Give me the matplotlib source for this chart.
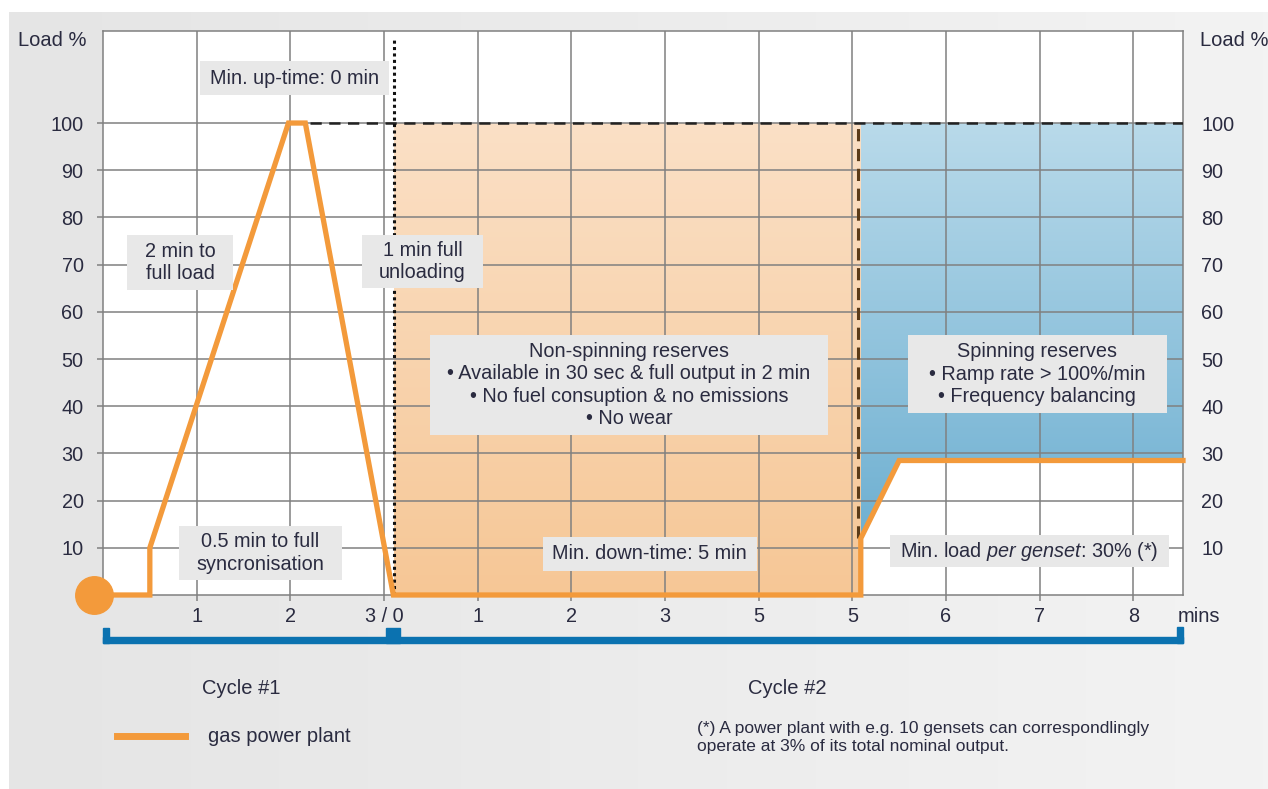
import matplotlib
matplotlib.use("Agg")
import matplotlib.pyplot as plt
import numpy as np
from matplotlib.colors import LinearSegmentedColormap
from matplotlib.patches import Rectangle, Polygon
from matplotlib.lines import Line2D
import matplotlib.transforms as mtransforms

plt.rcParams['font.family'] = ['Liberation Sans', 'DejaVu Sans']
plt.rcParams['mathtext.fontset'] = 'custom'
plt.rcParams['mathtext.rm'] = 'Liberation Sans'
plt.rcParams['mathtext.it'] = 'Liberation Sans:italic'

# data (minutes on a continuous axis: cycle 2 starts at 3)
load_x = [0, 0.5, 0.5, 1.98, 2.16, 3.1, 8.09, 8.09, 8.5, 11.53]
load_y = [0, 0, 10, 100, 100, 0, 0, 12, 28.5, 28.5]
xtick_pos = [1, 2, 3, 4, 5, 6, 7, 8, 9, 10, 11]
xtick_labels = ['1', '2', '3 / 0', '1', '2', '3', '5', '5', '6', '7', '8']
ytick_vals = [10, 20, 30, 40, 50, 60, 70, 80, 90, 100]
non_spin = [3.11, 8.09]       # x range of non-spinning reserve
spin_start = 8.09
full_load = 100
x_end = 11.53
cycle_bounds = [0, 3.1, x_end]

TXT = '#2a2b40'
GRID = '#808080'
ORANGE = '#f39a3b'
BLUE = '#0b72b0'
BOXC = '#e8e8e8'
FS = 14.3

W, H = 1268, 789
fig = plt.figure(figsize=(W / 100, H / 100), dpi=100, facecolor='white')

# gray page background with gentle horizontal gradient
bg = fig.add_axes([9 / W, 0, 1 - 9 / W, 1 - 12 / H], zorder=-10)
bg_cmap = LinearSegmentedColormap.from_list('bg', ['#e5e5e5', '#ececec', '#f3f3f3'])
bg.imshow(np.linspace(0, 1, 256)[None, :], cmap=bg_cmap, aspect='auto', extent=[0, 1, 0, 1])
bg.axis('off')

ax = fig.add_axes([103 / W, 1 - 595 / H, (1183 - 103) / W, (595 - 31) / H])
ax.set_facecolor('white')

# gradient fills
peach = LinearSegmentedColormap.from_list('peach', ['#f6c796', '#fbe0c6'])
ax.imshow(np.linspace(0, 1, 256)[:, None], cmap=peach, aspect='auto', origin='lower',
          extent=[non_spin[0], non_spin[1], 0, full_load], zorder=0.2)
blue_cm = LinearSegmentedColormap.from_list('bl', ['#64aace', '#b9daea'])
im = ax.imshow(np.linspace(0, 1, 256)[:, None], cmap=blue_cm, aspect='auto', origin='lower',
               extent=[spin_start, x_end, 0, full_load], zorder=0.2)
spin_x = [x for x in load_x if x >= spin_start]
spin_y = [y for x, y in zip(load_x, load_y) if x >= spin_start]
poly_pts = [(spin_start, full_load), (x_end, full_load)] + list(zip(spin_x[::-1], spin_y[::-1]))
clip = Polygon(poly_pts, closed=True, transform=ax.transData, facecolor='none', edgecolor='none')
ax.add_patch(clip)
im.set_clip_path(clip)

ax.set_xlim(0, x_end)
ax.set_ylim(0, 119.5)

ax.set_axisbelow(True)
ax.set_xticks(xtick_pos)
ax.set_xticklabels(xtick_labels)
ax.set_yticks(ytick_vals)
ax.grid(True, color=GRID, linewidth=1.1)
for s in ax.spines.values():
    s.set_color(GRID)
    s.set_linewidth(1.1)
ax.tick_params(axis='both', length=4, width=1.1, color=GRID, labelcolor=TXT, labelsize=FS)
ax.tick_params(axis='y', pad=10)
ax.tick_params(axis='x', pad=5)

ax2 = ax.twinx()
ax2.set_ylim(ax.get_ylim())
ax2.set_yticks(ytick_vals)
ax2.tick_params(axis='y', length=0, pad=13, labelcolor=TXT, labelsize=FS)
for s in ax2.spines.values():
    s.set_visible(False)

# reference lines
ax.plot([2.21, x_end], [full_load, full_load], color='#222222', lw=1.8, dashes=(4.5, 3), zorder=3)
ax.plot([non_spin[0], non_spin[0]], [0, 117.6], color='#111111', lw=2.2, ls=(0, (1, 1.1)), zorder=3)
ax.plot([spin_start - 0.03, spin_start - 0.03], [12, full_load], color='#5b3b18', lw=2.2,
        dashes=(4, 2.5), zorder=3)

# load curve
ax.plot(load_x, load_y, color=ORANGE, lw=3.8, solid_joinstyle='miter', zorder=4, clip_on=False)
ax.plot([-0.096], [0], 'o', color=ORANGE, ms=27, zorder=5, clip_on=False)

# notes: centre x, centre y, box width (min), box height (%), text
notes = [
    (2.043, 109.5, 2.02, 7.2, 'Min. up-time: 0 min'),
    (0.822, 70.4, 1.13, 11.65, '2 min to\nfull load'),
    (3.410, 70.7, 1.29, 11.2, '1 min full\nunloading'),
    (5.614, 44.5, 4.25, 21.2, 'Non-spinning reserves\n\u2022 Available in 30 sec & full output in 2 min\n'
                               '\u2022 No fuel consuption & no emissions\n\u2022 No wear'),
    (9.974, 46.8, 2.76, 16.5, 'Spinning reserves\n\u2022 Ramp rate > 100%/min\n\u2022 Frequency balancing'),
    (1.680, 8.9, 1.74, 11.4, '0.5 min to full\nsyncronisation'),
    (5.837, 8.7, 2.28, 7.2, 'Min. down-time: 5 min'),
    (9.888, 9.3, 2.98, 6.8, 'Min. load $\\it{per\\ genset}$: 30% (*)'),
]
for x, y, bw, bh, t in notes:
    ax.add_patch(Rectangle((x - bw / 2, y - bh / 2), bw, bh, facecolor=BOXC, edgecolor='none',
                           zorder=6, clip_on=False))
    ax.text(x, y, t, ha='center', va='center', fontsize=FS, color=TXT, linespacing=1.22, zorder=7)

fig.text(18 / W, 1 - 40 / H, 'Load %', fontsize=14.5, color=TXT, va='center', ha='left')
fig.text(1200 / W, 1 - 40 / H, 'Load %', fontsize=14.5, color=TXT, va='center', ha='left')
fig.text(1178 / W, 1 - 617 / H, 'mins', fontsize=14.5, color=TXT, va='center', ha='left')

# cycle bracket
tr = mtransforms.blended_transform_factory(ax.transData, fig.transFigure)
ux = 6 / 93.7
def py(p):
    return 1 - p / H
fig.add_artist(Rectangle((cycle_bounds[0], py(643)), cycle_bounds[2] - cycle_bounds[0], 6 / H,
                         transform=tr, color=BLUE))
fig.add_artist(Rectangle((cycle_bounds[0], py(643)), ux, 15 / H, transform=tr, color=BLUE))
fig.add_artist(Rectangle((cycle_bounds[1] - 0.08, py(643)), 0.15, 15 / H, transform=tr, color=BLUE))
fig.add_artist(Rectangle((cycle_bounds[2] - ux, py(643)), ux, 16 / H, transform=tr, color=BLUE))

fig.text(1.48, py(689), 'Cycle #1', transform=tr, fontsize=14.5, color=TXT, ha='center', va='center')
fig.text(7.31, py(689), 'Cycle #2', transform=tr, fontsize=14.5, color=TXT, ha='center', va='center')

# legend
fig.add_artist(Line2D([117 / W, 185 / W], [py(736), py(736)], color=ORANGE, lw=5))
fig.text(208 / W, py(737), 'gas power plant', fontsize=14.5, color=TXT, va='center', ha='left')

fig.text(697 / W, py(737), '(*) A power plant with e.g. 10 gensets can correspondlingly\n'
         'operate at 3% of its total nominal output.', fontsize=12.5, color=TXT,
         va='center', ha='left', linespacing=1.25)

fig.savefig('out.png', dpi=100, facecolor=fig.get_facecolor())
